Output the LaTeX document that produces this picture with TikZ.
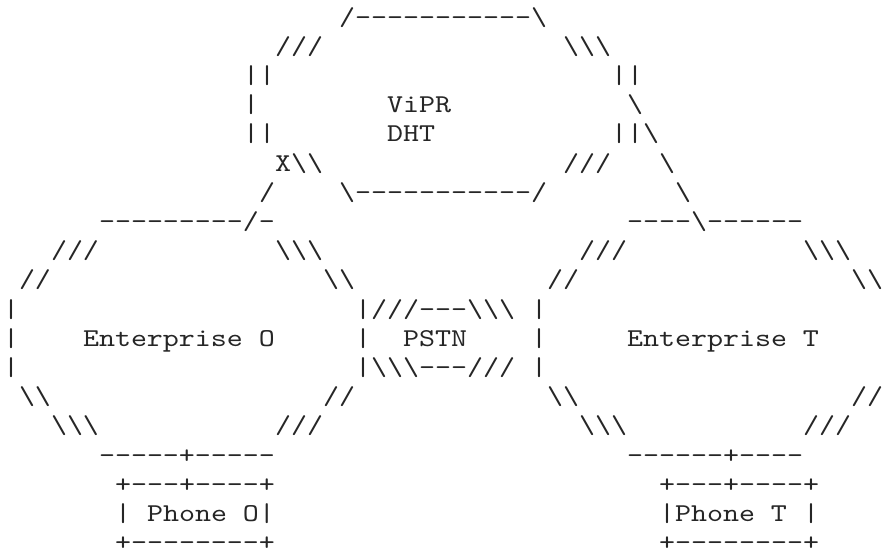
\documentclass[tikz,border=0pt]{standalone}
\usepackage{fontspec}
\newfontfamily\asciifont{lmmono10-regular}[Extension=.otf, Ligatures=TeXOff, FakeStretch=1.1858]
\newcommand\bsl{\textbackslash}
\newcommand\asciitext{\asciifont\fontsize{25.7pt}{29.2pt}\selectfont}
\tikzset{
  ascii/.style={font=\asciitext, anchor=base west, inner sep=0pt, outer sep=0pt, text=black!85}
}

\begin{document}
\begin{tikzpicture}[x=16pt, y=-29.2pt]
\useasboundingbox (0pt,0pt) rectangle (885pt,-554pt);
\begin{scope}[shift={(3pt,-25pt)}]
\node[ascii] (dhttop) at (21,0) {/-----------\bsl};
\node[ascii] (dhtnwa) at (17,1) {///};
\node[ascii] (dhtnea) at (35,1) {\bsl\bsl\bsl};
\node[ascii] (dhtwa) at (15,2) {||};
\node[ascii] (dhtea) at (38,2) {||};
\node[ascii] (dhtwb) at (15,3) {|};
\node[ascii] (vipr) at (24,3) {ViPR};
\node[ascii] (dhteb) at (39,3) {\bsl};
\node[ascii] (dhtwc) at (15,4) {||};
\node[ascii] (dht) at (24,4) {DHT};
\node[ascii] (dhtec) at (38,4) {||\bsl};
\node[ascii] (dhtswx) at (17,5) {X\bsl\bsl};
\node[ascii] (dhtsea) at (35,5) {///};
\node[ascii] (linkTa) at (41,5) {\bsl};
\node[ascii] (linkOa) at (16,6) {/};
\node[ascii] (dhtbot) at (21,6) {\bsl-----------/};
\node[ascii] (linkTb) at (42,6) {\bsl};
\node[ascii] (entOtop) at (6,7) {---------/-};
\node[ascii] (entTtop) at (39,7) {----\bsl------};
\node[ascii] (entOnwa) at (3,8) {///};
\node[ascii] (entOnea) at (17,8) {\bsl\bsl\bsl};
\node[ascii] (entTnwa) at (36,8) {///};
\node[ascii] (entTnea) at (50,8) {\bsl\bsl\bsl};
\node[ascii] (entOnwb) at (1,9) {//};
\node[ascii] (entOneb) at (20,9) {\bsl\bsl};
\node[ascii] (entTnwb) at (34,9) {//};
\node[ascii] (entTneb) at (53,9) {\bsl\bsl};
\node[ascii] (entOwa) at (0,10) {|};
\node[ascii] (pstntop) at (22,10) {|///---\bsl\bsl\bsl};
\node[ascii] (entTwa) at (33,10) {|};
\node[ascii] (entOwb) at (0,11) {|};
\node[ascii] (entO) at (5,11) {Enterprise O};
\node[ascii] (pstnw) at (22,11) {|};
\node[ascii] (pstn) at (25,11) {PSTN};
\node[ascii] (entTwb) at (33,11) {|};
\node[ascii] (entT) at (39,11) {Enterprise T};
\node[ascii] (entOwc) at (0,12) {|};
\node[ascii] (pstnbot) at (22,12) {|\bsl\bsl\bsl---///};
\node[ascii] (entTwc) at (33,12) {|};
\node[ascii] (entOswa) at (1,13) {\bsl\bsl};
\node[ascii] (entOsea) at (20,13) {//};
\node[ascii] (entTswa) at (34,13) {\bsl\bsl};
\node[ascii] (entTsea) at (53,13) {//};
\node[ascii] (entOswb) at (3,14) {\bsl\bsl\bsl};
\node[ascii] (entOseb) at (17,14) {///};
\node[ascii] (entTswb) at (36,14) {\bsl\bsl\bsl};
\node[ascii] (entTseb) at (50,14) {///};
\node[ascii] (entObot) at (6,15) {-----+-----};
\node[ascii] (entTbot) at (39,15) {------+----};
\node[ascii] (phOtop) at (7,16) {+---+----+};
\node[ascii] (phTtop) at (41,16) {+---+----+};
\node[ascii] (phOw) at (7,17) {|};
\node[ascii] (phoneO) at (9,17) {Phone O|};
\node[ascii] (phoneT) at (41,17) {|Phone T};
\node[ascii] (phTe) at (50,17) {|};
\node[ascii] (phObot) at (7,18) {+--------+};
\node[ascii] (phTbot) at (41,18) {+--------+};
\end{scope}
\end{tikzpicture}
\end{document}
